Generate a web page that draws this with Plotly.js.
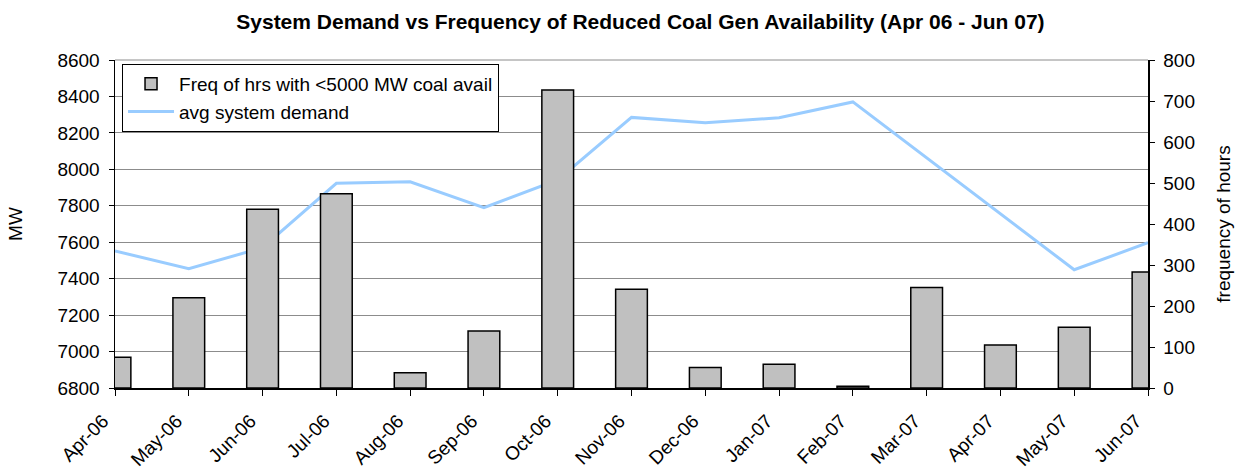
<!DOCTYPE html>
<html>
<head>
<meta charset="utf-8">
<script src="https://cdn.plot.ly/plotly-3.0.1.min.js"></script>
<style>
html,body{margin:0;padding:0;background:#fff;}
#chart{width:1246px;height:471px;}
</style>
</head>
<body>
<div id="chart"></div>
<script>
const months = ["Apr-06","May-06","Jun-06","Jul-06","Aug-06","Sep-06","Oct-06","Nov-06","Dec-06","Jan-07","Feb-07","Mar-07","Apr-07","May-07","Jun-07"];
const freqHours = [75, 220, 436, 474, 37, 139, 727, 241, 50, 58, 4, 245, 105, 148, 283];
const avgDemand = [7552, 7455, 7570, 7923, 7932, 7790, 7942, 8285, 8256, 8283, 8370, 8062, 7756, 7449, 7597];
const leftTicks = [6800, 7000, 7200, 7400, 7600, 7800, 8000, 8200, 8400, 8600];
const rightTicks = [0, 100, 200, 300, 400, 500, 600, 700, 800];

const idx = months.map((m, i) => i);
const FONT = "Liberation Sans, Arial, sans-serif";

const traces = [
  {
    type: "bar",
    name: "Freq of hrs with <5000 MW coal avail",
    x: idx,
    y: freqHours,
    yaxis: "y2",
    width: 0.43,
    marker: {color: "#C0C0C0", line: {color: "#000000", width: 1.5}},
    hoverinfo: "skip"
  },
  {
    type: "scatter",
    mode: "lines",
    name: "avg system demand",
    x: idx,
    y: avgDemand,
    yaxis: "y",
    line: {color: "#99CCFF", width: 3},
    hoverinfo: "skip"
  },
  {
    // invisible helper so the tick-mark axis is drawn
    type: "scatter",
    mode: "none",
    x: idx,
    y: avgDemand,
    xaxis: "x2",
    yaxis: "y",
    showlegend: false,
    hoverinfo: "skip"
  }
];

const layout = {
  width: 1246,
  height: 471,
  paper_bgcolor: "#ffffff",
  plot_bgcolor: "#ffffff",
  margin: {l: 115, r: 98, t: 60, b: 83, pad: 0},
  font: {family: FONT, size: 19, color: "#000"},
  showlegend: true,
  title: {
    text: "<b>System Demand vs Frequency of Reduced Coal Gen Availability (Apr 06 - Jun 07)</b>",
    font: {family: FONT, size: 21, color: "#000"},
    xref: "container", x: 0.514, xanchor: "center",
    yref: "container", y: 0.953, yanchor: "middle"
  },
  xaxis: {
    range: [0, 14],
    tickmode: "array",
    tickvals: idx,
    ticktext: months,
    tickangle: -45,
    ticks: "outside",
    ticklen: 13,
    tickcolor: "rgba(0,0,0,0)",
    ticklabelshift: -12,
    showline: true,
    linecolor: "#000",
    linewidth: 1.5,
    showgrid: false,
    zeroline: false,
    tickfont: {family: FONT, size: 19, color: "#000"},
    fixedrange: true
  },
  xaxis2: {
    range: [0, 14],
    overlaying: "x",
    anchor: "y",
    side: "bottom",
    tickmode: "array",
    tickvals: idx,
    showticklabels: false,
    ticks: "outside",
    ticklen: 7,
    tickcolor: "#000",
    showline: false,
    showgrid: false,
    zeroline: false,
    fixedrange: true
  },
  yaxis: {
    range: [6800, 8600],
    tickmode: "array",
    tickvals: leftTicks,
    ticktext: leftTicks.map(String),
    ticks: "outside",
    ticklen: 5,
    tickcolor: "#000",
    showline: true,
    linecolor: "#000",
    linewidth: 1.5,
    showgrid: true,
    gridcolor: "#8c8c8c",
    gridwidth: 1,
    zeroline: false,
    ticklabelstandoff: 5,
    tickfont: {family: FONT, size: 19, color: "#000"},
    title: {text: "MW", font: {family: FONT, size: 19, color: "#000"}, standoff: 30},
    fixedrange: true
  },
  yaxis2: {
    range: [0, 800],
    overlaying: "y",
    side: "right",
    tickmode: "array",
    tickvals: rightTicks,
    ticktext: rightTicks.map(String),
    ticks: "outside",
    ticklen: 5,
    tickcolor: "#000",
    showline: true,
    linecolor: "#000",
    linewidth: 1.5,
    showgrid: false,
    zeroline: false,
    ticklabelstandoff: 5,
    tickfont: {family: FONT, size: 19, color: "#000"},
    title: {text: "frequency of hours", font: {family: FONT, size: 19, color: "#000"}, standoff: 22},
    fixedrange: true
  },
  legend: {
    x: 0.0068, y: 0.988, xanchor: "left", yanchor: "top",
    bgcolor: "#ffffff",
    bordercolor: "#000",
    borderwidth: 1,
    font: {family: FONT, size: 19, color: "#000"},
    itemwidth: 46,
    traceorder: "normal"
  },
  shapes: [
    {type: "line", xref: "paper", yref: "paper", x0: 0, x1: 1, y0: 1, y1: 1,
     line: {color: "#8c8c8c", width: 1}}
  ]
};

Plotly.newPlot("chart", traces, layout, {displayModeBar: false, staticPlot: true});
</script>
</body>
</html>
